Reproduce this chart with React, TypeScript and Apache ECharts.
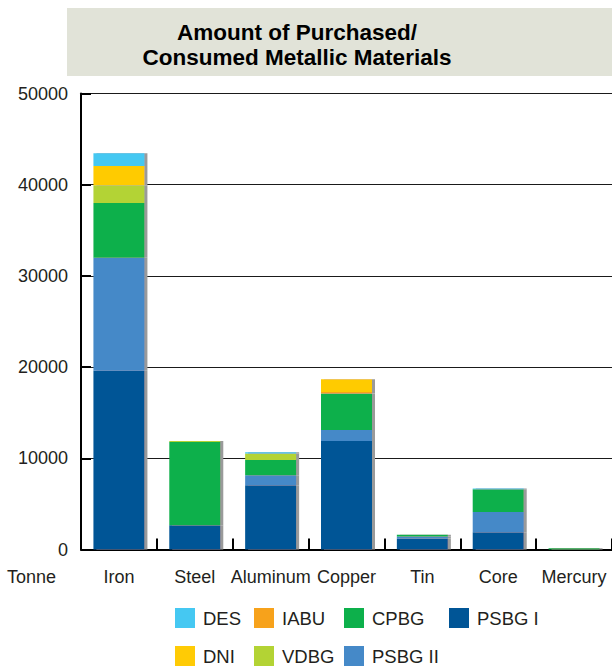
import React, { useEffect, useRef } from "react";
import * as echarts from "echarts";

// Materials on the category axis
const categories = ["Iron", "Steel", "Aluminum", "Copper", "Tin", "Core", "Mercury"];

// Tonnes per business group, stacked bottom to top in this order
const psbg1 = [19600, 2650, 7050, 11900, 1200, 1900, 0];
const psbg2 = [12400, 0, 1100, 1200, 220, 2200, 0];
const cpbg = [6000, 9150, 1650, 4000, 200, 2500, 150];
const vdbg = [1950, 100, 740, 0, 0, 0, 0];
const iabu = [0, 0, 0, 180, 0, 0, 0];
const dni = [2100, 0, 0, 1400, 0, 0, 0];
const des = [1400, 0, 110, 0, 0, 100, 0];

const yTicks = { min: 0, max: 50000, interval: 10000 };

const titleLines = ["Amount of Purchased/", "Consumed Metallic Materials"];
const unitLabel = "Tonne";

const FONT = "'Liberation Sans', Arial, Helvetica, sans-serif";
const INK = "#231f20";

const seriesDefs = [
  { name: "PSBG I", data: psbg1, color: "#005596" },
  { name: "PSBG II", data: psbg2, color: "#4589c8" },
  { name: "CPBG", data: cpbg, color: "#0db04b" },
  { name: "VDBG", data: vdbg, color: "#b3d334" },
  { name: "IABU", data: iabu, color: "#f7a21b" },
  { name: "DNI", data: dni, color: "#ffcb05" },
  { name: "DES", data: des, color: "#45c8f2" },
];

// legend grid: two rows, four columns
const legendSpots: { name: string; left: number; top: number }[] = [
  { name: "DES", left: 175, top: 608 },
  { name: "IABU", left: 254, top: 608 },
  { name: "CPBG", left: 344, top: 608 },
  { name: "PSBG I", left: 449, top: 608 },
  { name: "DNI", left: 175, top: 646 },
  { name: "VDBG", left: 254, top: 646 },
  { name: "PSBG II", left: 344, top: 646 },
];

export default function App() {
  const ref = useRef<HTMLDivElement>(null);

  useEffect(() => {
    if (!ref.current) return;
    const chart = echarts.init(ref.current, undefined, { renderer: "svg" });

    const option: any = {
      animation: false,
      backgroundColor: "#ffffff",
      textStyle: { fontFamily: FONT, color: INK },
      grid: { left: 81, top: 93.5, width: 533, height: 456, containLabel: false },
      graphic: [
        {
          type: "rect",
          shape: { x: 67, y: 8, width: 560, height: 68 },
          style: { fill: "#e1e3d8" },
          silent: true,
        },
        {
          type: "text",
          x: 297,
          y: 45,
          style: {
            text: titleLines.join("\n"),
            font: `bold 22.5px ${FONT}`,
            fill: "#000000",
            align: "center",
            verticalAlign: "middle",
            lineHeight: 25,
          },
          silent: true,
        },
        {
          type: "text",
          x: 7,
          y: 577,
          style: {
            text: unitLabel,
            font: `18px ${FONT}`,
            fill: INK,
            align: "left",
            verticalAlign: "middle",
          },
          silent: true,
        },
      ],
      legend: legendSpots.map((s) => ({
        data: [s.name],
        left: s.left,
        top: s.top,
        padding: 0,
        orient: "horizontal",
        icon: "rect",
        itemWidth: 20,
        itemHeight: 20,
        selectedMode: false,
        textStyle: {
          fontFamily: FONT,
          fontSize: 18.5,
          color: INK,
          padding: [0, 0, 0, 3],
        },
      })),
      xAxis: {
        type: "category",
        data: categories,
        boundaryGap: true,
        axisLine: { show: true, lineStyle: { color: "#000000", width: 2 } },
        axisTick: {
          show: true,
          inside: true,
          length: 11,
          alignWithLabel: false,
          lineStyle: { color: "#000000", width: 2 },
        },
        axisLabel: {
          color: INK,
          fontSize: 18,
          fontFamily: FONT,
          margin: 18,
          interval: 0,
        },
        splitLine: { show: false },
      },
      yAxis: {
        type: "value",
        min: yTicks.min,
        max: yTicks.max,
        interval: yTicks.interval,
        axisLine: { show: true, lineStyle: { color: "#000000", width: 2 } },
        axisTick: {
          show: true,
          inside: true,
          length: 10,
          lineStyle: { color: "#000000", width: 2 },
        },
        axisLabel: {
          color: INK,
          fontSize: 18,
          fontFamily: FONT,
          margin: 13,
          formatter: (v: number) => String(v),
        },
        splitLine: { show: true, lineStyle: { color: "#1a1a1a", width: 1 } },
      },
      series: seriesDefs.map((s) => ({
        name: s.name,
        type: "bar",
        stack: "total",
        data: s.data,
        barWidth: 51,
        itemStyle: {
          color: s.color,
          shadowColor: "#9a9a9a",
          shadowBlur: 0,
          shadowOffsetX: 3,
          shadowOffsetY: 0,
        },
        emphasis: { disabled: true },
      })),
    };

    chart.setOption(option);
    return () => chart.dispose();
  }, []);

  return (
    <div
      ref={ref}
      style={{ position: "fixed", left: 0, top: 0, width: 612, height: 666, background: "#ffffff" }}
    />
  );
}
